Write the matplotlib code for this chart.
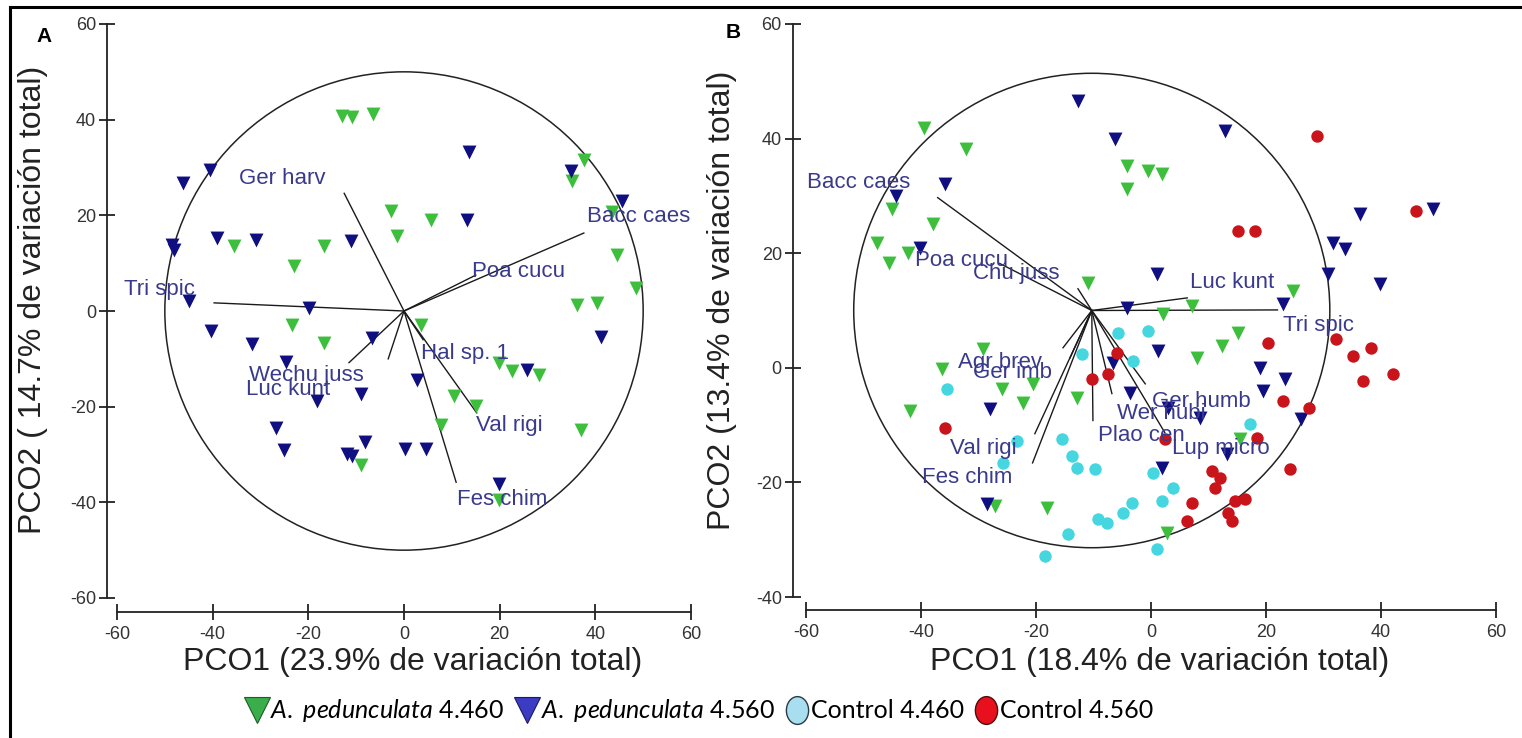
import numpy as np
import matplotlib
matplotlib.use("Agg")
import matplotlib.pyplot as plt
from matplotlib.lines import Line2D
from matplotlib.patches import Circle
from matplotlib.path import Path
from matplotlib.markers import MarkerStyle

plt.rcParams['font.family'] = ['Liberation Sans', 'DejaVu Sans']
plt.rcParams['axes.unicode_minus'] = False
plt.rcParams['mathtext.fontset'] = 'custom'
plt.rcParams['mathtext.it'] = 'Lato:italic'
plt.rcParams['mathtext.rm'] = 'Lato'

# ---- panel A: PCO scores (x, y) ----
a_green = np.array([
    (-12.9, 40.8), (-10.9, 40.6), (-6.5, 41.2), (-35.5, 13.5), (-23.0, 9.4),
    (-16.7, 13.5), (-2.7, 21.0), (-1.5, 15.6), (5.6, 19.0), (-23.4, -2.9),
    (-16.7, -6.7), (3.5, -2.9), (19.8, -10.8), (22.5, -12.5), (28.2, -13.3),
    (10.4, -17.7), (15.0, -19.8), (7.7, -23.8), (-9.0, -32.1), (19.8, -39.6),
    (37.0, -24.8), (37.6, 31.5), (35.1, 27.1), (43.4, 20.8), (44.5, 11.7),
    (48.6, 4.8), (36.1, 1.2), (40.3, 1.7)])
a_blue = np.array([
    (-46.3, 26.7), (-40.5, 29.4), (-48.6, 13.8), (-48.0, 12.7), (-39.0, 15.2),
    (-30.9, 14.8), (-11.1, 14.6), (-44.9, 2.1), (-19.8, 0.6), (-40.3, -4.2),
    (-31.7, -6.9), (-6.7, -5.6), (-24.6, -10.6), (-18.2, -18.8), (-9.0, -17.3),
    (2.7, -14.4), (-26.7, -24.4), (-25.1, -29.0), (-8.1, -27.3), (-11.9, -29.8),
    (-10.9, -30.4), (0.2, -28.8), (4.6, -28.8), (19.8, -36.2), (25.7, -12.3),
    (41.1, -5.4), (13.6, 33.3), (13.2, 19.0), (34.9, 29.2), (45.5, 23.1)])

# panel A: species vectors
a_species = ['Ger harv', 'Bacc caes', 'Poa cucu', 'Tri spic', 'Wechu juss',
             'Luc kunt', 'Hal sp. 1', 'Val rigi', 'Fes chim']
a_vec_x = [-12.5, 37.6, 15.0, -39.7, -11.5, -3.3, 4.0, 15.2, 10.9]
a_vec_y = [24.6, 16.3, 7.5, 1.7, -10.8, -10.0, -6.0, -21.3, -35.8]

# ---- panel B: PCO scores (x, y) ----
b_green = np.array([
    (-39.4, 41.9), (-32.1, 38.2), (-4.2, 35.3), (-4.2, 31.2), (-0.5, 34.4),
    (1.9, 33.9), (-45.1, 27.7), (-38.0, 25.1), (-47.7, 21.8), (-45.5, 18.3),
    (-42.3, 20.1), (-11.0, 14.8), (24.7, 13.4), (7.1, 10.8), (2.1, 9.4),
    (15.2, 6.1), (12.4, 3.8), (8.0, 1.7), (-29.3, 3.3), (-36.4, -0.2),
    (-26.0, -3.7), (-20.6, -2.8), (-22.3, -6.1), (-12.9, -5.2), (-42.0, -7.5),
    (-27.2, -24.1), (-18.1, -24.4), (15.5, -12.4), (2.8, -28.8)])
b_blue = np.array([
    (-12.7, 46.6), (-6.3, 40.0), (-35.9, 32.1), (-44.3, 30.0), (-40.2, 20.9),
    (1.0, 16.4), (-4.2, 10.5), (23.0, 11.2), (12.9, 41.4), (36.4, 26.9),
    (49.1, 27.7), (31.7, 21.8), (33.8, 20.8), (30.7, 16.4), (39.9, 14.7),
    (-6.6, 0.9), (-28.0, -7.2), (1.2, 3.0), (-3.7, -4.4), (3.0, -7.0),
    (8.5, -8.7), (19.0, 0.0), (23.3, -1.9), (19.5, -4.0), (26.0, -8.9),
    (13.2, -15.0), (1.9, -17.5), (-28.6, -23.7)])
b_cyan = np.array([
    (-5.7, 6.1), (-0.5, 6.5), (-12.0, 2.4), (-3.1, 1.2), (-35.5, -3.7),
    (17.2, -9.8), (-15.5, -12.4), (-13.8, -15.4), (-12.9, -17.5), (-9.8, -17.6),
    (-23.3, -12.7), (-25.8, -16.6), (0.3, -18.3), (3.8, -20.9), (1.9, -23.2),
    (-3.3, -23.6), (-4.9, -25.3), (-7.7, -27.1), (-9.2, -26.4), (-14.5, -29.0),
    (-18.5, -32.8), (1.0, -31.6)])
b_red = np.array([
    (28.9, 40.5), (46.0, 27.4), (15.2, 23.9), (18.1, 23.9), (20.4, 4.4),
    (32.1, 5.1), (35.2, 2.1), (38.2, 3.5), (36.9, -2.3), (42.0, -1.0),
    (23.0, -5.8), (27.4, -7.0), (18.5, -12.2), (24.2, -17.6), (10.6, -18.0),
    (12.0, -19.2), (11.1, -20.9), (7.1, -23.6), (6.3, -26.7), (13.4, -25.3),
    (14.1, -26.7), (14.6, -23.2), (16.4, -22.9), (-35.9, -10.5), (-10.3, -1.9),
    (-7.5, -1.0), (-5.9, 2.6), (2.4, -12.4)])

# panel B: species vectors (drawn from the circle centre)
b_origin = (-10.3, 10.0)
b_species = ['Bacc caes', 'Poa cucu', 'Chu juss', 'Luc kunt', 'Tri spic',
             'Agr brev', 'Ger imb', 'Val rigi', 'Fes chim', 'Plao cen',
             'Ger humb', 'Wer nubi', 'Lup micro']
b_vec_x = [-37.1, -26.3, -12.7, 6.3, 22.0, -15.3, -14.1, -20.2, -20.6, -10.1, -1.0, -6.8, 2.4]
b_vec_y = [29.7, 18.2, 13.8, 12.2, 10.1, 3.5, 1.7, -11.5, -16.6, -9.2, -2.8, -4.5, -11.3]

group_labels = [r'$\it{A.}$ $\it{pedunculata}$ 4.460', r'$\it{A.}$ $\it{pedunculata}$ 4.560',
                'Control 4.460', 'Control 4.560']

# label anchor points (left edge, middle)
a_label_pos = [(-34.4, 27.7), (38.2, 19.8), (14.2, 8.3), (-58.5, 4.4), (-32.4, -13.5),
               (-33.0, -16.5), (3.5, -8.8), (15.0, -24.0), (11.1, -39.4)]
b_label_pos = [(-59.8, 32.3), (-41.1, 18.7), (-31.0, 16.4), (6.8, 14.8), (23.0, 7.3),
               (-33.6, 0.9), (-31.0, -0.9), (-35.0, -14.0), (-39.9, -19.2), (-9.2, -11.9),
               (0.2, -5.8), (-5.9, -7.9), (3.7, -14.1)]

GREEN = '#3dbf3d'
NAVY = '#0f0f82'
CYAN = '#45d6e0'
RED = '#c8141a'
LABEL = '#3a3a8c'

W, H = 1522, 738
fig = plt.figure(figsize=(W / 100, H / 100), dpi=100)


def px_axes(x0, x1, y0, y1):
    return fig.add_axes([x0 / W, 1 - y1 / H, (x1 - x0) / W, (y1 - y0) / H])


def style_axes(ax, ylo, left_out, bottom_out):
    ax.set_xlim(-60, 60)
    ax.set_ylim(ylo, 60)
    ax.set_xticks(range(-60, 61, 20))
    ax.set_yticks(range(ylo, 61, 20))
    for s in ['top', 'right']:
        ax.spines[s].set_visible(False)
    ax.spines['left'].set_position(('outward', left_out))
    ax.spines['bottom'].set_position(('outward', bottom_out))
    ax.spines['left'].set_bounds(ylo, 60)
    ax.spines['bottom'].set_bounds(-60, 60)
    for s in ['left', 'bottom']:
        ax.spines[s].set_linewidth(1.3)
        ax.spines[s].set_color('#222222')
    ax.tick_params(direction='inout', length=12, width=1.3, color='#222222',
                   labelsize=13, labelcolor='#333333', pad=2)
    ax.tick_params(axis='x', pad=4)
    ax.patch.set_alpha(0)


def draw_vectors(ax, origin, vx, vy, names, pos):
    ox, oy = origin
    for x, y in zip(vx, vy):
        ax.plot([ox, x], [oy, y], color='#1a1a1a', lw=1.0, zorder=3)
    for name, (tx, ty) in zip(names, pos):
        ax.text(tx, ty, name, color=LABEL, fontsize=16, ha='left', va='center',
                zorder=6, clip_on=False)


# panel A
axA = px_axes(117, 691, 24, 598)
style_axes(axA, -60, 7.2, 10)
axA.add_patch(Circle((0, 0), 50, fill=False, lw=1.1, color='#222222', zorder=2))
axA.scatter(a_green[:, 0], a_green[:, 1], marker='v', s=100, color=GREEN, linewidths=0, zorder=4)
axA.scatter(a_blue[:, 0], a_blue[:, 1], marker='v', s=100, color=NAVY, linewidths=0, zorder=4)
draw_vectors(axA, (0, 0), a_vec_x, a_vec_y, a_species, a_label_pos)

# panel B
axB = px_axes(806, 1496, 24, 597)
style_axes(axB, -40, 9.4, 9.4)
axB.add_patch(Circle(b_origin, 41.4, fill=False, lw=1.1, color='#222222', zorder=2))
axB.scatter(b_green[:, 0], b_green[:, 1], marker='v', s=100, color=GREEN, linewidths=0, zorder=4)
axB.scatter(b_blue[:, 0], b_blue[:, 1], marker='v', s=100, color=NAVY, linewidths=0, zorder=4)
axB.scatter(b_cyan[:, 0], b_cyan[:, 1], marker='o', s=80, color=CYAN, linewidths=0, zorder=4)
axB.scatter(b_red[:, 0], b_red[:, 1], marker='o', s=80, color=RED, linewidths=0, zorder=4)
draw_vectors(axB, b_origin, b_vec_x, b_vec_y, b_species, b_label_pos)

# axis titles
fig.text(413 / W, 1 - 662 / H, 'PCO1 (23.9% de variación total)', fontsize=23,
         ha='center', va='center', color='#222222')
fig.text(33 / W, 1 - 300 / H, 'PCO2 ( 14.7% de variación total)', fontsize=23,
         ha='center', va='center', rotation=90, color='#222222')
fig.text(1160 / W, 1 - 662 / H, 'PCO1 (18.4% de variación total)', fontsize=23,
         ha='center', va='center', color='#222222')
fig.text(722 / W, 1 - 300 / H, 'PCO2 (13.4% de variación total)', fontsize=23,
         ha='center', va='center', rotation=90, color='#222222')

fig.text(44 / W, 1 - 36 / H, 'A', fontsize=15, fontweight='bold', ha='center', va='center')
fig.text(733 / W, 1 - 33 / H, 'B', fontsize=15, fontweight='bold', ha='center', va='center')

# frame lines of the figure
fig.add_artist(Line2D([10 / W, 1], [1 - 7 / H, 1 - 7 / H], color='k', lw=2.2))
fig.add_artist(Line2D([10 / W, 10 / W], [0, 1 - 7 / H], color='k', lw=2.2))

# legend with tall ellipse markers for the controls
ell = Path.unit_circle()
ell = Path(ell.vertices * np.array([0.8, 1.0]), ell.codes)
handles = [
    Line2D([], [], ls='none', marker='v', markersize=19, markerfacecolor='#3aae4a',
           markeredgecolor='#1f5a28', markeredgewidth=0.8),
    Line2D([], [], ls='none', marker='v', markersize=19, markerfacecolor='#3b3bc4',
           markeredgecolor='#1a1a60', markeredgewidth=0.8),
    Line2D([], [], ls='none', marker=MarkerStyle(ell), markersize=20, markerfacecolor='#a9def0',
           markeredgecolor='#2a3a44', markeredgewidth=1.0),
    Line2D([], [], ls='none', marker=MarkerStyle(ell), markersize=20, markerfacecolor='#e8101c',
           markeredgecolor='#4a1010', markeredgewidth=1.0),
]
fig.legend(handles, group_labels, loc='center', bbox_to_anchor=(700 / W, 1 - 711 / H),
           ncol=4, frameon=False, handlelength=0.8, handletextpad=0.15, columnspacing=0.5,
           prop={'family': 'Lato', 'size': 18})

fig.savefig('out.png', dpi=100)
